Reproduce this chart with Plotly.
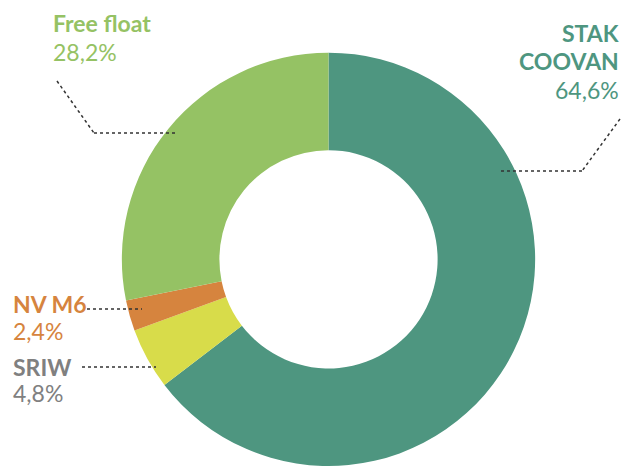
import plotly.graph_objects as go

# ---- data ----
labels = ["STAK COOVAN", "SRIW", "NV M6", "Free float"]
values = [64.6, 4.8, 2.4, 28.2]
colors = ["#4E9680", "#D8DC4A", "#D6843E", "#95C264"]
text_colors = ["#4E9680", "#808080", "#D6843E", "#95C264"]
name_lines = [["STAK", "COOVAN"], ["SRIW"], ["NV M6"], ["Free float"]]

W, H = 624, 466
FONT = "Lato"
FS = 23


def px(x):
    return x / W


def py(y):
    return 1 - y / H


fig = go.Figure(go.Pie(
    labels=labels,
    values=values,
    marker=dict(colors=colors, line=dict(width=0)),
    hole=0.528,
    sort=False,
    direction="clockwise",
    rotation=0,
    textinfo="none",
    showlegend=False,
    domain=dict(x=[121 / W, 536 / W], y=[0, 1 - 52.7 / H]),
))

# label layout (pixel positions of each text line centre)
label_layout = {
    "STAK COOVAN": dict(x=621, anchor="right", ys=[33.3, 61.5], yv=90),
    "SRIW": dict(x=11, anchor="left", ys=[367.3], yv=393),
    "NV M6": dict(x=11, anchor="left", ys=[304], yv=331),
    "Free float": dict(x=51, anchor="left", ys=[23], yv=52),
}

annotations = []
for lab, val, col, lines in zip(labels, values, text_colors, name_lines):
    L = label_layout[lab]
    for line, yy in zip(lines, L["ys"]):
        annotations.append(dict(
            x=px(L["x"]), y=py(yy), xref="paper", yref="paper",
            text=f"<b>{line}</b>", showarrow=False,
            xanchor=L["anchor"], yanchor="middle",
            font=dict(family=FONT, size=FS, color=col),
        ))
    pct = f"{val:.1f}".replace(".", ",") + "%"
    annotations.append(dict(
        x=px(L["x"]), y=py(L["yv"]), xref="paper", yref="paper",
        text=pct, showarrow=False,
        xanchor=L["anchor"], yanchor="middle",
        font=dict(family=FONT, size=FS, color=col),
    ))

# dotted leader lines (pixel polylines)
leaders = [
    [(57, 81), (94, 133), (178, 133)],
    [(620, 119), (582, 171), (499, 171)],
    [(87, 309), (142, 309)],
    [(82, 367), (156, 367)],
]
shapes = []
for pts in leaders:
    for (x0, y0), (x1, y1) in zip(pts[:-1], pts[1:]):
        shapes.append(dict(
            type="line", xref="paper", yref="paper",
            x0=px(x0), y0=py(y0), x1=px(x1), y1=py(y1),
            line=dict(color="#333333", width=1.5, dash="dot"),
        ))

fig.update_layout(
    width=W, height=H,
    margin=dict(l=0, r=0, t=0, b=0),
    paper_bgcolor="white", plot_bgcolor="white",
    annotations=annotations,
    shapes=shapes,
)

fig.write_html("out.html")
